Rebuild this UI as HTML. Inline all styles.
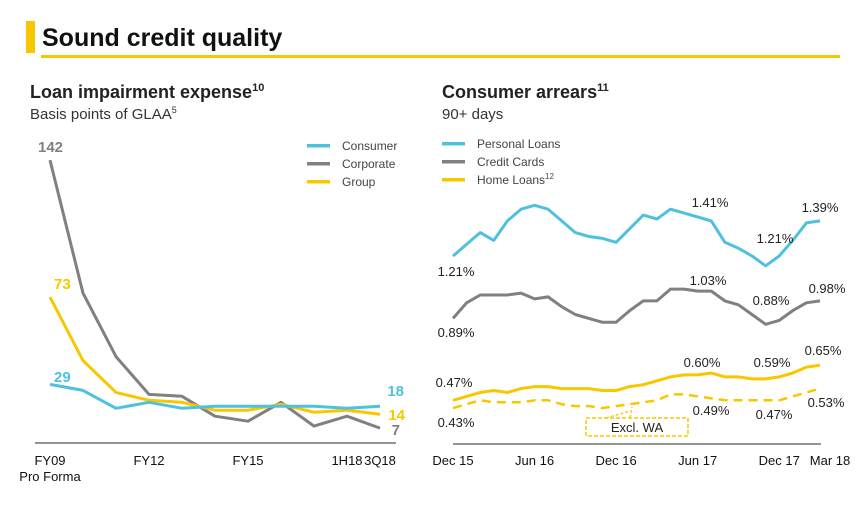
<!DOCTYPE html>
<html><head><meta charset="utf-8">
<style>
body{margin:0;background:#fff;font-family:"Liberation Sans",Arial,sans-serif;}
svg{display:block}
</style></head>
<body>
<svg width="863" height="505" viewBox="0 0 863 505" font-family="Liberation Sans, Arial, sans-serif">
  <rect x="26" y="21" width="9" height="32" fill="#f7c800"/>
  <text x="42" y="46" font-size="25" font-weight="bold" fill="#111">Sound credit quality</text>
  <rect x="41" y="55" width="799" height="3" fill="#f7c800"/>

  <text x="30" y="98" font-size="18" font-weight="bold" fill="#222">Loan impairment expense<tspan font-size="11" dy="-7">10</tspan></text>
  <text x="30" y="119" font-size="15" fill="#333">Basis points of GLAA<tspan font-size="9" dy="-6">5</tspan></text>
  <text x="442" y="98" font-size="18" font-weight="bold" fill="#222">Consumer arrears<tspan font-size="11" dy="-7">11</tspan></text>
  <text x="442" y="119" font-size="15" fill="#333">90+ days</text>

  <g id="left"></g>
  <g id="right"></g>
</svg>
<script>
const NS='http://www.w3.org/2000/svg';
const C_BLUE='#4fc1de', C_GREY='#807f83', C_GOLD='#f7c800';
function mk(tag,attrs,parent){const e=document.createElementNS(NS,tag);for(const k in attrs)e.setAttribute(k,attrs[k]);parent.appendChild(e);return e;}

// ---- Left chart data ----
const leftCategories=['FY09','FY10','FY11','FY12','FY13','FY14','FY15','FY16','FY17','1H18','3Q18'];
const leftTickLabels=['FY09','FY12','FY15','1H18','3Q18'];
const consumerValues=[29,26,17,20,17,18,18,18,18,17,18];
const corporateValues=[142,75,43,24,23,13,10.5,20,8,13,7];
const groupValues=[73,41,25,21,20,16,16,19,15,16,14];

// ---- Right chart data ----
const rightCategories=['Dec 15','Jan 16','Feb 16','Mar 16','Apr 16','May 16','Jun 16','Jul 16','Aug 16','Sep 16','Oct 16','Nov 16','Dec 16','Jan 17','Feb 17','Mar 17','Apr 17','May 17','Jun 17','Jul 17','Aug 17','Sep 17','Oct 17','Nov 17','Dec 17','Jan 18','Feb 18','Mar 18'];
const rightTickLabels=['Dec 15','Jun 16','Dec 16','Jun 17','Dec 17','Mar 18'];
const personalLoans=[1.21,1.27,1.33,1.29,1.39,1.45,1.47,1.45,1.39,1.33,1.31,1.30,1.28,1.35,1.42,1.40,1.45,1.43,1.41,1.39,1.28,1.25,1.21,1.16,1.21,1.29,1.38,1.39];
const creditCards=[0.89,0.97,1.01,1.01,1.01,1.02,0.99,1.00,0.95,0.91,0.89,0.87,0.87,0.93,0.98,0.98,1.04,1.04,1.03,1.03,0.98,0.96,0.91,0.86,0.88,0.93,0.97,0.98];
const homeLoans=[0.47,0.49,0.51,0.52,0.51,0.53,0.54,0.54,0.53,0.53,0.53,0.52,0.52,0.54,0.55,0.57,0.59,0.60,0.60,0.61,0.59,0.59,0.58,0.58,0.59,0.61,0.64,0.65];
const homeLoansExclWA=[0.43,0.45,0.47,0.46,0.46,0.46,0.47,0.47,0.45,0.44,0.44,0.43,0.44,0.45,0.46,0.47,0.50,0.50,0.49,0.48,0.47,0.47,0.47,0.47,0.47,0.49,0.51,0.53];

// Left axes
const L=document.getElementById('left');
const lx=i=>50+i*33;
const ly=v=>442-v*1.985;
mk('line',{x1:35,x2:396,y1:443,y2:443,stroke:'#555','stroke-width':1.3},L);
function linePath(vals,fx,fy){return vals.map((v,i)=>(i?'L':'M')+fx(i).toFixed(1)+' '+fy(v).toFixed(1)).join(' ');}
[['corporate-line',corporateValues,C_GREY],['group-line',groupValues,C_GOLD],['consumer-line',consumerValues,C_BLUE]].forEach(([n,vals,c])=>{
  const p=mk('path',{d:linePath(vals,lx,ly),fill:'none',stroke:c,'stroke-width':3,'stroke-linejoin':'round'},L);
  
  
});
leftTickLabels.forEach(t=>{
  const i=leftCategories.indexOf(t);
  const e=mk('text',{x:lx(i),y:465,'font-size':13,'text-anchor':'middle',fill:'#111'},L);
  e.textContent=t;
  
  
});
const pf=mk('text',{x:50,y:481,'font-size':13,'text-anchor':'middle',fill:'#111'},L);pf.textContent='Pro Forma';


const n0=leftCategories.length-1;
[[corporateValues[0],C_GREY,38,152,'start'],[groupValues[0],C_GOLD,54,289,'start'],[consumerValues[0],C_BLUE,54,382,'start'],
 [consumerValues[n0],C_BLUE,404,396,'end'],[groupValues[n0],C_GOLD,405,420,'end'],[corporateValues[n0],C_GREY,400,435,'end']].forEach(([v,c,x,y,a])=>{
  const e=mk('text',{x:x,y:y,'font-size':15,'font-weight':'bold',fill:c,'text-anchor':a},L);
  e.textContent=v;
  
  
});
[['Consumer',C_BLUE,146],['Corporate',C_GREY,164],['Group',C_GOLD,182]].forEach(([t,c,y])=>{
  const g=mk('g',{},L);
  
  
  mk('rect',{x:307,y:y-2,width:23,height:3.5,fill:c},g);
  const e=mk('text',{x:342,y:y+4,'font-size':12,fill:'#444'},g);e.textContent=t;
});

// Right axes
const R=document.getElementById('right');
const rx=i=>453+i*(367/27);
const ry=v=>256-(v-1.21)*195;
mk('line',{x1:453,x2:821,y1:444,y2:444,stroke:'#555','stroke-width':1.3},R);
[['personal-loans-line',personalLoans,C_BLUE,null],['credit-cards-line',creditCards,C_GREY,null],['home-loans-line',homeLoans,C_GOLD,null],['home-loans-excl-wa-line',homeLoansExclWA,C_GOLD,'9 6']].forEach(([n,vals,c,d])=>{
  const at={d:linePath(vals,rx,ry),fill:'none',stroke:c,'stroke-width':d?2.5:3,'stroke-linejoin':'round'};
  if(d)at['stroke-dasharray']=d;
  const p=mk('path',at,R);
  
  
});
rightTickLabels.forEach(t=>{
  const i=rightCategories.indexOf(t);
  const e=mk('text',{x:rx(i)+(t==='Mar 18'?10:0),y:465,'font-size':13,'text-anchor':'middle',fill:'#111'},R);
  e.textContent=t;
  
  
});
const pct=v=>v.toFixed(2)+'%';
[[personalLoans[0],456,276],[personalLoans[18],710,207],[personalLoans[24],775,243],[personalLoans[27],820,212],
 [creditCards[0],456,337],[creditCards[18],708,285],[creditCards[24],771,305],[creditCards[27],827,293],
 [homeLoans[0],454,387],[homeLoans[18],702,367],[homeLoans[24],772,367],[homeLoans[27],823,355],
 [homeLoansExclWA[0],456,427],[homeLoansExclWA[18],711,415],[homeLoansExclWA[24],774,419],[homeLoansExclWA[27],826,407]].forEach(([v,x,y])=>{
  const e=mk('text',{x:x,y:y,'font-size':13,'text-anchor':'middle',fill:'#222'},R);
  e.textContent=pct(v);
  
  
});
const box=mk('g',{},R);


mk('rect',{x:586,y:418,width:102,height:18,fill:'none',stroke:C_GOLD,'stroke-width':1.5,'stroke-dasharray':'4 2'},box);
mk('path',{d:'M606 418 L630 411 M630 418 L632 407',fill:'none',stroke:C_GOLD,'stroke-width':1.3,'stroke-dasharray':'3 2'},box);
const bt=mk('text',{x:637,y:432,'font-size':13,'text-anchor':'middle',fill:'#222'},box);bt.textContent='Excl. WA';
[['Personal Loans',C_BLUE,144,''],['Credit Cards',C_GREY,162,''],['Home Loans',C_GOLD,180,'12']].forEach(([t,c,y,s])=>{
  const g=mk('g',{},R);
  
  
  mk('rect',{x:442,y:y-2,width:23,height:3.5,fill:c},g);
  const e=mk('text',{x:477,y:y+4,'font-size':12,fill:'#444'},g);e.textContent=t;
  if(s){const sp=mk('tspan',{'font-size':8,dy:-5},e);sp.textContent=s;}
});
</script>
</body></html>
